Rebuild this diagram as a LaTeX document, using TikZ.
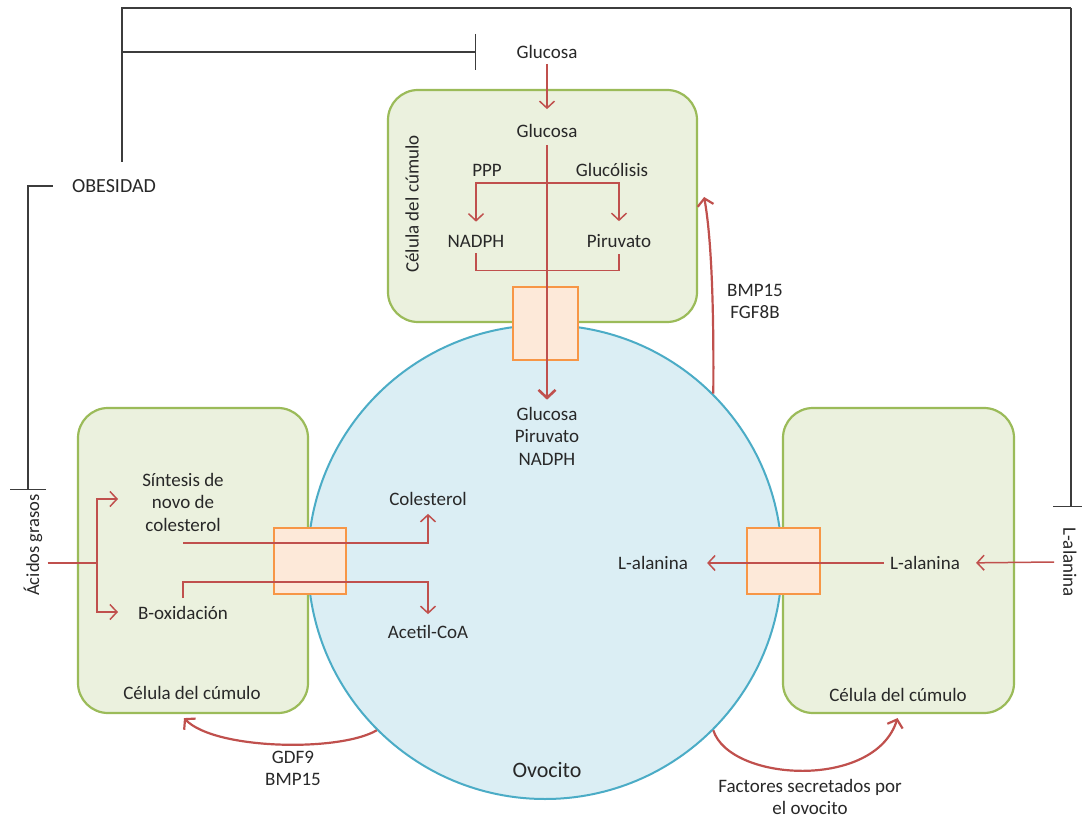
\documentclass[tikz,border=0pt]{standalone}
\usepackage{fontspec}
\setmainfont{Carlito}
\usetikzlibrary{arrows.meta,calc}
\definecolor{cellfill}{RGB}{235,241,222}
\definecolor{celldraw}{RGB}{155,187,89}
\definecolor{oofill}{RGB}{219,238,244}
\definecolor{oodraw}{RGB}{75,172,198}
\definecolor{chanfill}{RGB}{253,233,217}
\definecolor{chandraw}{RGB}{247,150,70}
\definecolor{arr}{RGB}{192,80,77}
\definecolor{txt}{RGB}{40,40,40}
\definecolor{inh}{RGB}{60,60,60}
\begin{document}
\begin{tikzpicture}[x=1pt,y=-1pt,
  lbl/.style={font=\fontsize{19}{22.5}\selectfont, text=txt, inner sep=1pt, align=center},
  cell/.style={draw=celldraw, fill=cellfill, line width=2.2pt, rounded corners=30pt, inner sep=0pt},
  chan/.style={draw=chandraw, fill=chanfill, line width=2.2pt, inner sep=0pt},
  redline/.style={draw=arr, line width=1.5pt},
  flow/.style={redline, -{Straight Barb[length=7pt,width=15pt,line width=1.5pt]}},
  bigflow/.style={draw=arr, line width=2.6pt, -{Straight Barb[length=8pt,width=17pt,line width=2.6pt]}},
  curvy/.style={draw=arr, line width=2.2pt, -{Straight Barb[length=7pt,width=16pt,line width=2.2pt]}},
  inhline/.style={draw=inh, line width=1.4pt},
  inhib/.style={inhline, -{Bar[width=36pt,line width=1.4pt]}}
]
\useasboundingbox (0,0) rectangle (1082,818);
\fill[white] (0,0) rectangle (1082,818);

% cells
\node[cell, minimum width=309pt, minimum height=232pt] (tc) at (542.5,206) {};
\node[cell, minimum width=230pt, minimum height=305pt] (lc) at (193,560.5) {};
\node[cell, minimum width=231pt, minimum height=305pt] (rc) at (898.5,560.5) {};
% oocyte
\node[circle, draw=oodraw, fill=oofill, line width=2pt, minimum size=474pt, inner sep=0pt] (oo) at (545,562) {};
% channels
\node[chan, minimum width=65pt, minimum height=73pt] (cht) at (545.5,323.5) {};
\node[chan, minimum width=72pt, minimum height=66pt] (chl) at (310,561) {};
\node[chan, minimum width=73pt, minimum height=66pt] (chr) at (783.5,561) {};

% ---- top cell
\node[lbl] (g0) at (547,52) {Glucosa};
\node[lbl] (g1) at (547,131) {Glucosa};
\node[lbl] (ppp) at (487,170) {PPP};
\node[lbl] (gly) at (612,170) {Glucólisis};
\node[lbl] (nadph) at (476,241) {NADPH};
\node[lbl] (pir) at (619,241) {Piruvato};
\node[lbl, rotate=90] (tcl) at (412,204) {Célula del cúmulo};
\node[lbl] (oog) at (547,436) {Glucosa\\Piruvato\\NADPH};
\coordinate (br) at (547,183);

\draw[flow, shorten <=4pt, shorten >=14pt] (g0.south) -- (g1.north);
\draw[flow, shorten >=12pt] (br) -| (nadph.north);
\draw[flow, shorten >=12pt] (br) -| (pir.north);
\draw[redline] ([yshift=-5pt]nadph.south) -- ++(0,17) -| ([yshift=-5pt]pir.south);
\draw[bigflow, shorten <=6pt, shorten >=6pt] (g1.south) -- (oog.north);

% ---- left cell
\node[lbl] (syn) at (183,502) {Síntesis de\\novo de\\colesterol};
\node[lbl] (box) at (183,613) {B-oxidación};
\node[lbl] (lcl) at (192,693) {Célula del cúmulo};
\node[lbl, rotate=90, font=\fontsize{18.5}{22}\selectfont] (acid) at (33,545) {Ácidos grasos};
\node[lbl] (col) at (428,499) {Colesterol};
\node[lbl] (ace) at (428,632) {Acetil-CoA};
\coordinate (ab) at (97,563);
\coordinate (abt) at (118,499);
\coordinate (abb) at (118,612);

\draw[redline] ([xshift=4pt]acid.south |- ab) -- (ab);
\draw[flow] (ab) |- (abt);
\draw[flow] (ab) |- (abb);
\draw[flow, shorten >=7pt] (183,543) -| (col.south);
\draw[flow, shorten >=10pt] ([yshift=7pt]box.north) -- ++(0,-16) -| (ace.north);

% ---- right cell
\node[lbl] (lal2) at (925,563) {L-alanina};
\node[lbl] (lal1) at (653,563) {L-alanina};
\node[lbl] (rcl) at (898,695) {Célula del cúmulo};
\node[lbl, rotate=-90] (lal3) at (1070,562) {L-alanina};
\draw[flow, shorten <=5pt, shorten >=18pt] (lal2.west) -- (lal1.east);
\draw[flow, shorten >=15pt] ([xshift=-8pt]lal3.south) -- (lal2.east);

% ---- oocyte & signals
\node[lbl, font=\fontsize{22}{26}\selectfont] (ovo) at (547,770) {Ovocito};
\node[lbl] (bmp) at (755,301.5) {BMP15\\FGF8B};
\node[lbl] (gdf) at (293,768.5) {GDF9\\BMP15};
\node[lbl] (fac) at (810,797) {Factores secretados por\\el ovocito};

\draw[curvy] (oo.45) .. controls (714,300) and (711,235) .. ($(tc.east)+(6,-9)$);
\draw[curvy] (oo.225) .. controls (340,752) and (215,750) .. ($(lc.south)+(-9,4)$);
\draw[curvy] (oo.-45) .. controls (730,782) and (875,790) .. ($(rc.south)+(-1,4)$);

% ---- obesity
\node[lbl, font=\fontsize{20}{24}\selectfont] (ob) at (114,186) {OBESIDAD};
\coordinate (obtop) at (122,162);
\coordinate (oj) at (122,52);
\coordinate (tl) at (122,8);
\coordinate (tr) at (1071,8);
\coordinate (inhG) at (476,52);
\coordinate (inhR) at (1071,507);
\coordinate (obl) at (28,186);
\coordinate (inhL) at (28,490);

\draw[inhline] (obtop) -- (tl) -- (tr);
\draw[inhib] (oj) -- (inhG);
\draw[inhib] (tr) -- (inhR);
\draw[inhib] ([xshift=-18pt]ob.west) -- (obl) -- (inhL);
\end{tikzpicture}
\end{document}
